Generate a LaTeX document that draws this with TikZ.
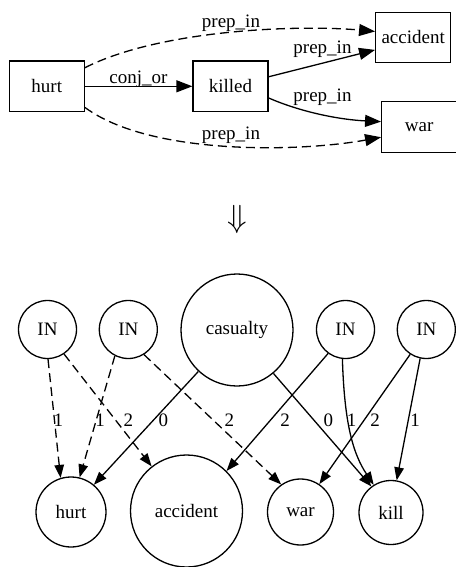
\documentclass[tikz,border=0pt]{standalone}
\usepackage{fontspec}
\setmainfont{Liberation Serif}
\newfontfamily\graphfont{Liberation Serif}
\usepackage{graphicx}
\usetikzlibrary{arrows.meta}

\tikzset{
  txt/.style={font=\graphfont\fontsize{19}{21}\selectfont},
  box/.style={draw, line width=1.3pt, rectangle, minimum width=75pt, minimum height=50.6pt, inner sep=0pt, txt},
  ball/.style={draw, line width=1.3pt, circle, inner sep=0pt, txt},
  elabel/.style={inner sep=0pt, txt},
  toparrow/.style={line width=1.3pt, -{Triangle[length=16pt, width=12pt]}},
  botarrow/.style={line width=1.3pt, -{Triangle[length=13pt, width=9.5pt]}},
  dashedge/.style={dash pattern=on 9pt off 5pt},
}

\begin{document}
\begin{tikzpicture}[x=1pt, y=-1pt]
\useasboundingbox (0,0) rectangle (455,567);

% ---- dependency graph ----
\node[box] (hurt)     at (46.8,86.3)  {hurt};
\node[box] (killed)   at (230.5,86.3) {killed};
\node[box] (accident) at (413.2,37.5) {accident};
\node[box] (war)      at (419.2,127)  {war};

\draw[toparrow] (hurt) -- (killed)
  node[elabel] at (138.5,79) {conj\_or};
\draw[toparrow, dashedge] (hurt.26) .. controls +(75,-38) and +(-77,-7) .. (accident.171)
  node[elabel] at (231,23) {prep\_in};
\draw[toparrow, dashedge] (hurt.-29) .. controls +(65,48) and +(-82,15) .. (war.195)
  node[elabel] at (231,135.5) {prep\_in};
\draw[toparrow] (killed.14) -- (accident.198)
  node[elabel] at (322.5,49.5) {prep\_in};
\draw[toparrow] (killed.-17) .. controls +(32,14) and +(-42,-2) .. (war.172)
  node[elabel] at (322.5,97.5) {prep\_in};

% ---- transformation symbol ----
\node[inner sep=0pt] (down) at (237.5,219) {\scalebox{3.2}{$\Downarrow$}};

% ---- semantic graph ----
\node[ball, minimum size=58pt]  (in1) at (47.5,329.5)  {IN};
\node[ball, minimum size=58pt]  (in2) at (128.3,329.5) {IN};
\node[ball, minimum size=112pt] (cas) at (237,330)     {casualty};
\node[ball, minimum size=58pt]  (in3) at (345.5,329.5) {IN};
\node[ball, minimum size=58pt]  (in4) at (426.3,329.5) {IN};

\node[ball, minimum size=70pt]  (bhurt) at (71,512)    {hurt};
\node[ball, minimum size=112pt] (bacc)  at (186.5,511) {accident};
\node[ball, minimum size=66pt]  (bwar)  at (300.5,512) {war};
\node[ball, minimum size=64pt]  (bkill) at (391,512.5) {kill};

\draw[botarrow, dashedge] (in1.-89) -- (bhurt.107)
  node[elabel] at (58.3,420) {1};
\draw[botarrow, dashedge] (in2.-117) -- (bhurt.76)
  node[elabel] at (100,420) {1};
\draw[botarrow, dashedge] (in1.-56) -- (bacc.128)
  node[elabel] at (128.3,420) {2};
\draw[botarrow] (cas.-133) -- (bhurt.50)
  node[elabel] at (163.3,420) {0};
\draw[botarrow, dashedge] (in2.-58) -- (bwar.125)
  node[elabel] at (229.3,420) {2};
\draw[botarrow] (in3.-126) -- (bacc.45)
  node[elabel] at (285,420) {2};
\draw[botarrow] (cas.-50) -- (bkill.127)
  node[elabel] at (328.3,420) {0};
\draw[botarrow] (in3.-96) .. controls +(2,67) and +(-20,-30) .. (bkill.122)
  node[elabel] at (351.7,420) {1};
\draw[botarrow] (in4.-123) -- (bwar.56)
  node[elabel] at (375,420) {2};
\draw[botarrow] (in4.-102) -- (bkill.80)
  node[elabel] at (415,420) {1};
\end{tikzpicture}
\end{document}
